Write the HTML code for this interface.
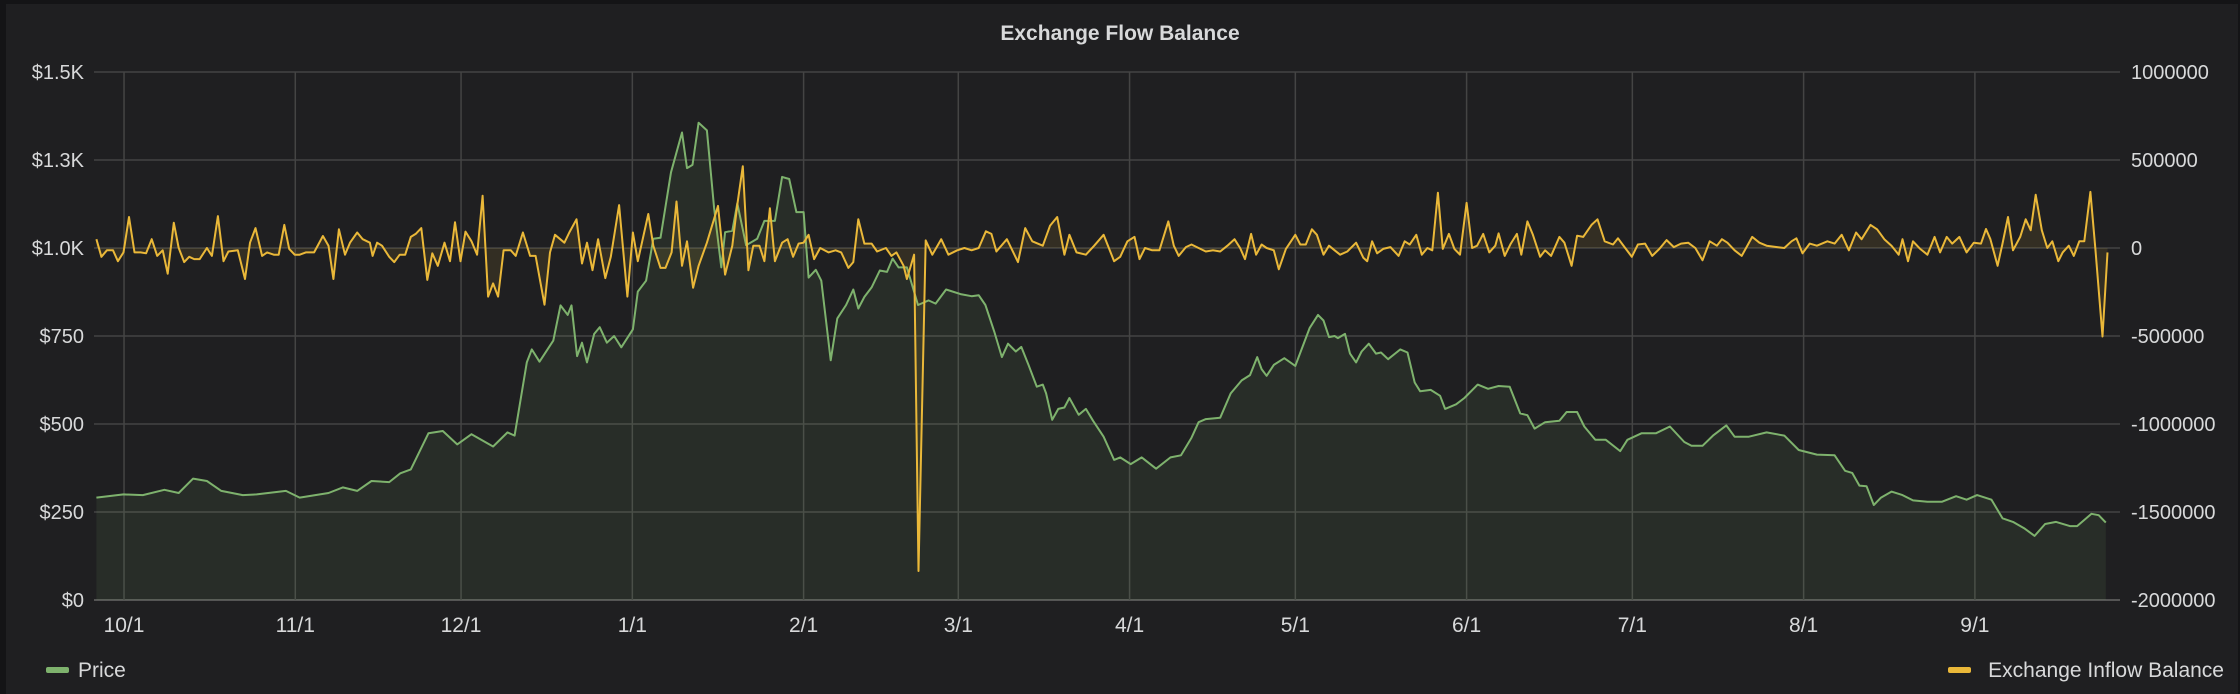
<!DOCTYPE html>
<html><head><meta charset="utf-8">
<style>
html,body{margin:0;padding:0;background:#141416;}
#wrap{position:relative;width:2240px;height:694px;overflow:hidden;background:#141416;}
#panel{position:absolute;left:6px;top:4px;width:2232px;height:690px;background:#1f1f21;}
svg{position:absolute;left:0;top:0;}
text{font-family:"Liberation Sans",sans-serif;fill:#d8d9da;}
</style></head>
<body>
<div id="wrap">
<div id="panel"></div>
<svg id="chart" width="2240" height="694"></svg>
</div>
<script>
const monthLabels=["10/1","11/1","12/1","1/1","2/1","3/1","4/1","5/1","6/1","7/1","8/1","9/1"];
const monthDays=[5,36,66,97,128,156,187,217,248,278,309,340];
const leftTicks=[0,250,500,750,1000,1250,1500];
const leftTickLabels=["$0","$250","$500","$750","$1.0K","$1.3K","$1.5K"];
const rightTicks=[-2000000,-1500000,-1000000,-500000,0,500000,1000000];
const rightTickLabels=["-2000000","-1500000","-1000000","-500000","0","500000","1000000"];
const priceDays=[0,4.9,8.4,12.3,14.9,17.5,20,22.6,26.5,29,34.3,36.8,42,44.6,47.2,49.8,53,55,56.9,60.1,62.7,65.3,67.9,71.8,74.4,75.7,77.9,78.8,80.2,82.7,84,85.3,86,87,87.9,88.8,90.1,91.1,92.4,93.7,95,97.1,98,99.5,100.8,102.1,104,106,106.9,107.9,109,110.5,111.8,113.1,113.8,115.1,116,117.6,119.6,120.9,122.8,124.1,125.4,126.7,128,128.9,130.2,131.2,132.9,134.1,135.7,137,137.9,139,140.3,141.8,143.1,144.1,145.2,146.7,148.7,150.6,151.9,153.8,156.4,158.4,159.7,160.9,162.5,163.9,165,166.4,167.4,168.7,170.2,171.3,171.9,173,174.1,175.2,176.1,177.8,179.1,180.4,182.3,184.2,185.3,187.2,189.2,191.8,194.4,196.3,198.2,199.5,200.8,203.4,205.3,207.3,208.8,210.1,210.9,211.8,213.1,215,217,218.3,219.6,221.1,222.1,223.1,224.1,224.7,226,226.9,228,229,230.3,231.6,232.5,233.8,236,237.3,238.6,239.6,241.5,243.2,244.1,246.1,247.6,250,251.9,253.8,255.8,257.7,259,260.3,262.2,264.8,266.1,268,269.3,271.3,273.2,275.8,277.1,279.7,282.3,284.8,287.4,288.7,290.7,292.6,295,296.5,299.1,302.3,305.5,308.1,311.4,314.6,316.5,317.8,319.1,320.4,321.7,323,324.9,326.9,328.8,331.4,334,336.6,338.5,340.4,343,345,346.9,348.9,350.8,352.7,354.7,357.2,358.5,361.1,362.4,363.7];
const priceValues=[291,300,298,313,304,345,338,310,298,300,310,291,304,320,310,338,335,360,371,474,480,442,471,436,476,467,675,712,677,737,837,810,837,693,731,675,756,775,731,750,718,769,876,907,1026,1029,1215,1328,1227,1236,1356,1334,1114,945,1045,1049,1127,1008,1026,1077,1077,1202,1196,1102,1102,916,938,907,681,800,838,882,828,861,888,936,932,970,945,945,838,851,842,882,869,863,866,838,763,690,728,706,719,668,606,612,587,512,543,547,574,526,543,509,464,398,405,386,405,373,405,411,461,505,514,518,587,624,639,690,656,637,668,687,665,719,773,810,794,747,750,744,756,700,675,706,728,700,703,684,712,703,618,593,597,580,543,556,574,612,600,608,606,530,525,487,505,509,534,534,493,455,455,423,455,474,474,493,449,438,438,467,496,464,464,476,467,426,413,411,367,361,325,323,270,291,308,298,283,279,279,295,285,298,285,232,222,204,182,216,222,210,210,245,241,220];
const inflowDays=[0,0.9,1.9,3,3.9,4.9,5.9,6.9,8,9,10,11,12,12.9,14,14.9,15.9,16.8,17.7,18.7,20,20.9,22,23,23.9,25.6,26.9,27.8,28.8,30,30.9,32.1,33,34,34.9,35.9,36.8,37.9,39.4,41,42,42.9,43.9,45,45.9,47.2,48.2,49.5,50,50.8,51.7,53,53.9,54.9,55.9,56.9,57.8,58.8,59.9,60.8,61.8,63,64,64.9,65.9,66.8,67.9,68.9,69.9,70.9,71.8,72.7,73.7,75,75.9,77.2,78.5,79.5,81.1,82.1,83,84.7,85.6,86.9,87.9,88.8,89.8,90.8,92.1,93.1,94.6,96.1,97.1,98,99.9,100.8,102.1,103,104.1,105,106,106.9,108,109,110.5,112.5,113.8,115.1,116,117,118,118.9,120,120.9,121.9,122.8,124.1,125.1,126.1,127.1,128,128.9,129.9,131,132.5,133.8,134.8,136.1,137,137.9,139,140.3,141.3,142.9,143.9,144.8,146.1,146.7,148,148.8,150.1,151.3,152.9,154.2,155.8,157.1,158.4,159.7,161,162,162.9,164.8,166.8,168.1,169.4,171.3,172.6,173.9,175.2,176.1,177.4,179.1,180.6,182.3,184.2,185.3,186.6,187.9,188.8,189.8,191.1,192.4,194,195,195.9,197.2,198.2,199.5,200.8,202.1,203.4,204.7,206,207,207.9,209,209.9,210.9,211.8,213.1,214,215.3,217,217.9,218.9,220,220.9,222.1,223.1,224.1,225.1,226.4,228,229.3,230,230.9,231.8,232.9,234.2,235.7,236.8,237.7,238.9,239.9,240.9,241.8,242.8,243.7,244.8,245.8,246.8,248,249,249.9,251,252.1,253.2,253.8,254.9,256,257.1,257.9,259,260,261.3,262.2,263.3,264.8,265.7,267,268,269.1,270.6,271.7,273,274.5,275.4,276.7,277.9,279,280.3,281.6,282.9,284.2,285.5,286.8,288.1,289.4,290.7,292,293.3,294.2,295.2,296.5,297.8,299.7,301,302.3,304.2,305.5,306.8,307.7,308.8,310.1,311.4,313.3,314.6,315.9,317.2,318.5,319.5,321.1,322.3,323.6,324.9,326.2,326.9,327.9,328.8,330.1,331.4,332.7,333.7,334.9,335.9,337.2,338.5,339.8,341.1,342,342.8,344.1,345,346,346.9,348.2,349.2,350.1,351,352.1,353.1,354,355.1,355.9,357,357.9,358.9,359.8,360.9,361.8,363.1,364];
const inflowValues=[50,-50,-13,-13,-75,-25,176,-25,-25,-30,50,-45,-13,-146,143,0,-80,-50,-63,-63,0,-45,181,-75,-20,-13,-176,30,113,-45,-25,-38,-38,131,-5,-38,-38,-25,-25,68,13,-176,106,-38,30,88,50,30,-45,30,13,-50,-80,-38,-38,63,80,113,-181,-30,-101,30,-75,146,-75,93,38,-38,297,-276,-201,-276,-13,-13,-45,88,-45,-45,-322,-25,75,30,88,163,-88,30,-126,50,-171,-50,244,-276,88,-75,193,13,-113,-113,-25,264,-101,38,-226,-101,30,239,-151,13,246,465,-126,13,13,-75,226,-75,30,50,-50,25,30,75,-63,0,-25,-13,-25,-113,-80,163,25,25,-20,0,-45,-25,-101,-176,-38,-1835,43,-38,50,-38,-13,0,-13,0,95,80,-20,50,-80,113,38,13,126,176,-38,75,-25,-38,13,75,-75,-50,38,63,-63,0,-13,-13,151,13,-45,5,20,0,-20,-13,-20,13,50,0,-63,80,-38,20,0,-13,-121,-5,75,20,20,106,75,-38,13,-13,-38,-20,30,-55,-75,38,-30,-5,5,-45,38,20,75,-38,0,-13,314,-5,80,-5,-38,256,0,13,80,-25,13,83,-45,25,80,-38,151,75,-50,-13,-45,63,30,-101,70,63,131,163,38,20,55,0,-50,20,25,-45,-5,45,5,25,30,0,-70,38,13,50,30,-13,-45,63,30,13,5,0,38,55,-30,25,13,38,25,75,-13,88,50,131,106,50,13,-38,50,-75,38,-5,-38,63,-25,63,25,63,-25,30,25,108,50,-101,25,176,-13,63,163,101,302,101,0,38,-75,-25,13,-45,38,38,319,0,-503,-25];

const NS="http://www.w3.org/2000/svg";
const svg=document.getElementById('chart');
const X0=96.4,X1=2107.5,D0=0,D1=364;
const PL=94,PR=2120,PT=72,PB=600;
function xs(d){return X0+(d-D0)/(D1-D0)*(X1-X0);}
function yl(v){return PB-(v/1500)*(PB-PT);}
function yr(v){return PB-((v+2000000)/3000000)*(PB-PT);}
function mk(tag,attrs){const e=document.createElementNS(NS,tag);for(const k in attrs)e.setAttribute(k,attrs[k]);svg.appendChild(e);return e;}

let t=mk('text',{x:1120,y:40,'text-anchor':'middle','font-size':'21','font-weight':'bold'});
t.textContent='Exchange Flow Balance';



leftTicks.forEach((v,i)=>{
  const g=mk('line',{x1:PL,x2:PR,y1:yl(v),y2:yl(v),stroke:i===0?'#555':'#444',"stroke-width":i===0?2:1.5});
  
  
  const l=mk('text',{x:84,y:yl(v)+7,'text-anchor':'end','font-size':'20'});
  l.textContent=leftTickLabels[i];
  
  
});
rightTicks.forEach((v,i)=>{
  const l=mk('text',{x:2131,y:yr(v)+7,'text-anchor':'start','font-size':'20'});
  l.textContent=rightTickLabels[i];
  
  
});
monthDays.forEach((d,i)=>{
  const g=mk('line',{x1:xs(d),x2:xs(d),y1:PT,y2:PB,stroke:'#444',"stroke-width":1.5});
  
  
  const l=mk('text',{x:xs(d),y:632,'text-anchor':'middle','font-size':'21'});
  l.textContent=monthLabels[i];
  
  
});

// price area + line
let pts=priceDays.map((d,i)=>xs(d).toFixed(1)+','+yl(priceValues[i]).toFixed(1));
let pa=mk('polygon',{points:xs(priceDays[0]).toFixed(1)+','+yl(0)+' '+pts.join(' ')+' '+xs(priceDays[priceDays.length-1]).toFixed(1)+','+yl(0),fill:'rgba(126,178,109,0.1)'});


let pl=mk('polyline',{points:pts.join(' '),fill:'none',stroke:'#7eb26d','stroke-width':2,'stroke-linejoin':'round'});



// inflow area + line
let ipts=inflowDays.map((d,i)=>xs(d).toFixed(1)+','+yr(inflowValues[i]*1000).toFixed(1));
let ia=mk('polygon',{points:xs(inflowDays[0]).toFixed(1)+','+yr(0)+' '+ipts.join(' ')+' '+xs(inflowDays[inflowDays.length-1]).toFixed(1)+','+yr(0),fill:'rgba(234,184,57,0.1)'});


let il=mk('polyline',{points:ipts.join(' '),fill:'none',stroke:'#eab839','stroke-width':2,'stroke-linejoin':'round'});



// legend
let s1=mk('rect',{x:46,y:667,width:23,height:6,rx:2,fill:'#7eb26d'});


let l1=mk('text',{x:78,y:677,'font-size':'21'});
l1.textContent='Price';


let s2=mk('rect',{x:1948,y:667,width:23,height:6,rx:2,fill:'#eab839'});


let l2=mk('text',{x:2224,y:677,'font-size':'21','text-anchor':'end'});
l2.textContent='Exchange Inflow Balance';


</script>
</body></html>
